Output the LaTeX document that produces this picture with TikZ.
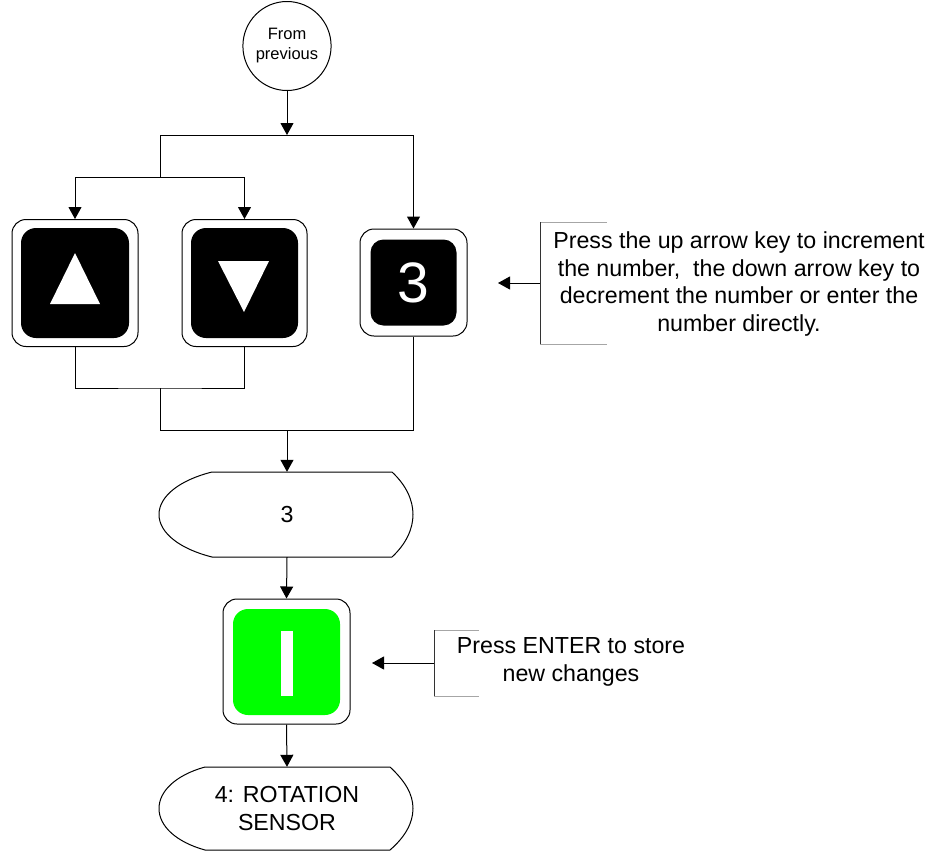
\documentclass[tikz,border=0pt]{standalone}
\usepackage{fontspec}
\setmainfont{Liberation Sans}
\usetikzlibrary{arrows.meta,shapes.geometric,calc}
\tikzset{
  conn/.style={line width=1pt, draw=black},
  arr/.style={conn, -{Triangle[length=12pt,width=13pt]}},
  keyout/.style={draw=black, line width=1pt, rounded corners=14pt, fill=white, inner sep=0pt},
  keyin/.style={fill=black, rounded corners=15pt, inner sep=0pt, text=white},
  dispnode/.style={inner sep=0pt, minimum width=254pt, font=\fontsize{23.2}{27.5}\selectfont, align=center},
  disp/.style={line width=1pt, draw=black, fill=white},
  note/.style={font=\fontsize{23.2}{27.5}\selectfont, align=center, inner sep=0pt},
  bracketh/.style={line width=1pt, draw=gray!70},
  bracketv/.style={line width=1pt, draw=black!80}
}
\begin{document}
\begin{tikzpicture}[x=1pt,y=-1pt]
\useasboundingbox (0,0) rectangle (945,854);

% start terminal
\node[ellipse, draw=black, line width=1pt, minimum width=85pt, minimum height=89pt, inner sep=0pt,
      font=\fontsize{16.5}{20}\selectfont, align=center] (prev) at (287,46) {From\\previous};

% keys
\node[keyout, minimum width=126pt, minimum height=127pt] (up) at (75,283) {};
\node[keyin, minimum width=108pt, minimum height=110pt] (upin) at (75,283) {};
\fill[white] (75,253) -- (100,304) -- (50,304) -- cycle;

\node[keyout, minimum width=125pt, minimum height=127pt] (down) at (244.5,283) {};
\node[keyin, minimum width=107pt, minimum height=110pt] (downin) at (244.5,283) {};
\fill[white] (218,261) -- (269,261) -- (244,312) -- cycle;

\node[keyout, minimum width=107pt, minimum height=107pt] (three) at (413.5,282.5) {};
\node[keyin, minimum width=86pt, minimum height=86pt, rounded corners=13pt,
      font=\fontsize{57}{57}\selectfont] (threein) at (413.5,282.5) {3};

% display "3"
\draw[disp] (212,472) -- (392,472) .. controls (406,485) and (413,500) .. (413,514.5)
   .. controls (413,529) and (406,544) .. (392,557) -- (212,557)
   .. controls (180,549) and (159,533) .. (159,514.5)
   .. controls (159,496) and (180,480) .. (212,472) -- cycle;
\node[dispnode, minimum height=85pt] (d1) at (287,514.5) {3};

% enter key
\node[keyout, minimum width=127pt, minimum height=125pt] (enter) at (286.5,661.5) {};
\node[fill=green, rounded corners=15pt, inner sep=0pt,
      minimum width=107pt, minimum height=106pt] (enterin) at (286.5,662) {};
\fill[white] (281,631) rectangle (293,696);

% final display
\draw[disp] (205,767) -- (390,767) .. controls (405,781) and (413,794) .. (413,808.5)
   .. controls (413,823) and (405,837) .. (390,850) -- (205,850)
   .. controls (176,842) and (159,826) .. (159,808.5)
   .. controls (159,791) and (176,775) .. (205,767) -- cycle;
\node[dispnode, minimum height=83pt] (d2) at (287,808.5) {4: ROTATION\\SENSOR};

% junction coordinates
\coordinate (j1) at (287,135);
\coordinate (jL) at (160,135);
\coordinate (jL2) at (160,177);
\coordinate (jB) at (160,388);
\coordinate (jC) at (160,430);
\coordinate (jD) at (287,430);

% connectors
\draw[arr] (prev.south) -- (j1);
\draw[arr] (jL) -| (three.north);
\draw[conn] (jL) -- (jL2);
\draw[arr] (jL2) -| (up.north);
\draw[arr] (jL2) -| (down.north);
\draw[conn] (up.south) |- (jB) -| (down.south);
\draw[conn] (jB) -- (jC) -| (three.south);
\draw[arr] (jD) -- (d1.north);
\draw[arr] (d1.south) -- (enter.north);
\draw[arr] (enter.south) -- (d2.north);

% callout 1
\node[note] (c1) at (739,284) {Press the up arrow key to increment\\the number,\ \ the down arrow key to\\decrement the number or enter the\\number directly.};
\draw[bracketh] (607,222) -- (540,222);
\draw[bracketh] (607,344) -- (540,344);
\draw[bracketv] (540,222) -- (540,344);
\coordinate (c1b) at (540,283);
\coordinate (c1t) at (498,283);
\draw[arr] (c1b) -- (c1t);

% callout 2
\node[note] (c2) at (571,662) {Press ENTER to store\\new changes};
\draw[bracketh] (479,630) -- (434,630);
\draw[bracketh] (479,696) -- (434,696);
\draw[bracketv] (434,630) -- (434,696);
\coordinate (c2b) at (434,663);
\coordinate (c2t) at (372,663);
\draw[arr] (c2b) -- (c2t);
\end{tikzpicture}
\end{document}
